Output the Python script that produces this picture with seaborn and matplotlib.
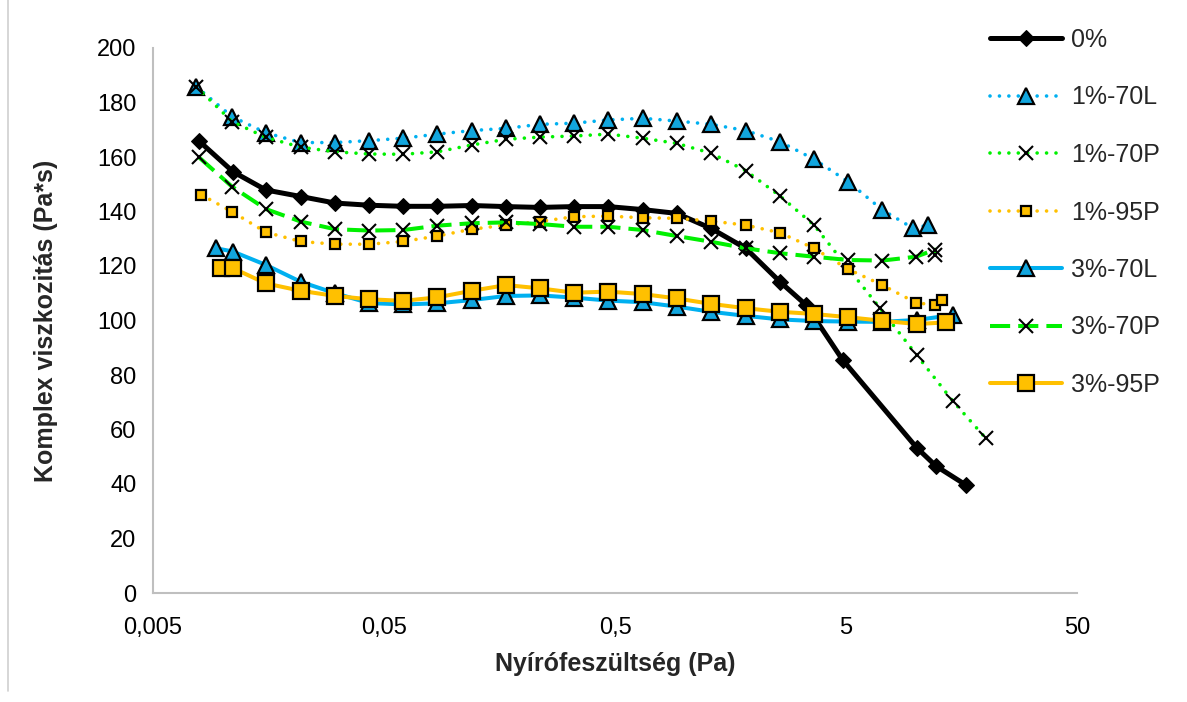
import numpy as np
import pandas as pd
import seaborn as sns
import matplotlib.pyplot as plt
from matplotlib.lines import Line2D
from matplotlib.ticker import FixedLocator, FixedFormatter, NullLocator

sns.set_style('white')
plt.rcParams['font.family'] = ['Liberation Sans', 'DejaVu Sans']

# values (x: shear stress in Pa, y: complex viscosity in Pa*s)
x_0 = [0.0079, 0.0111, 0.0154, 0.0218, 0.0307, 0.0431, 0.0606, 0.0851, 0.1198, 0.1687, 0.2367, 0.3322,
       0.4677, 0.659, 0.925, 1.302, 1.840, 2.590, 3.357, 4.838, 10.12, 12.26, 16.54]
y_0 = [165.9, 154.6, 147.9, 145.5, 143.1, 142.3, 141.9, 141.9, 142.2, 141.8, 141.5, 141.8,
       141.8, 140.7, 139.3, 133.8, 126.5, 114.2, 105.7, 85.5, 53.3, 46.6, 39.6]

x_1_70L = [0.0077, 0.0110, 0.0154, 0.0218, 0.0307, 0.0431, 0.0606, 0.0851, 0.1198, 0.1687, 0.2367, 0.3322,
           0.4677, 0.659, 0.925, 1.302, 1.840, 2.590, 3.635, 5.116, 7.18, 9.78, 11.29]
y_1_70L = [185.8, 174.8, 168.9, 165.3, 165.3, 166.0, 166.9, 168.4, 169.7, 170.5, 172.0, 172.4,
           173.6, 174.2, 173.2, 172.0, 169.7, 165.6, 159.2, 150.9, 140.6, 133.8, 135.0]

x_1_70P = [0.0077, 0.0110, 0.0154, 0.0218, 0.0307, 0.0431, 0.0606, 0.0851, 0.1198, 0.1687, 0.2367, 0.3322,
           0.4677, 0.659, 0.925, 1.302, 1.840, 2.590, 3.635, 7.02, 10.12, 14.48, 20.13]
y_1_70P = [185.8, 173.0, 167.2, 163.6, 161.9, 161.1, 161.0, 161.9, 164.4, 166.5, 167.3, 167.7,
           168.4, 166.9, 165.0, 161.4, 155.0, 145.7, 135.0, 104.5, 87.3, 70.5, 56.8]

x_1_95P = [0.0081, 0.0110, 0.0154, 0.0218, 0.0307, 0.0431, 0.0606, 0.0851, 0.1198, 0.1687, 0.2367, 0.3322,
           0.4677, 0.659, 0.925, 1.302, 1.840, 2.590, 3.635, 5.116, 7.18, 10.05, 12.14, 13.06]
y_1_95P = [146.1, 139.9, 132.4, 129.0, 128.0, 128.0, 129.0, 131.0, 133.5, 135.0, 136.3, 138.1,
           138.3, 137.7, 137.5, 136.5, 135.0, 132.2, 126.5, 118.8, 113.0, 106.5, 105.7, 107.5]

x_3_70L = [0.0094, 0.0111, 0.0154, 0.0218, 0.0307, 0.0431, 0.0606, 0.0851, 0.1198, 0.1687, 0.2367, 0.3322,
           0.4677, 0.659, 0.925, 1.302, 1.840, 2.590, 3.635, 5.116, 7.18, 10.12, 14.48]
y_3_70L = [126.5, 125.3, 120.4, 114.2, 110.0, 106.4, 105.9, 106.3, 107.5, 109.0, 109.2, 108.4,
           107.3, 106.7, 105.1, 103.2, 101.7, 100.4, 99.8, 99.6, 99.5, 100.2, 102.0]

x_3_70P = [0.0079, 0.0110, 0.0154, 0.0218, 0.0307, 0.0431, 0.0606, 0.0851, 0.1198, 0.1687, 0.2367, 0.3322,
           0.4677, 0.659, 0.925, 1.302, 1.840, 2.590, 3.635, 5.116, 7.18, 10.05, 12.14, 12.14]
y_3_70P = [159.9, 149.1, 140.9, 136.3, 133.5, 133.0, 133.2, 134.8, 135.7, 136.0, 135.4, 134.4,
           134.4, 133.2, 131.0, 128.9, 126.5, 124.7, 123.4, 122.2, 122.0, 123.4, 126.0, 123.9]

x_3_95P = [0.0098, 0.0111, 0.0154, 0.0218, 0.0307, 0.0431, 0.0606, 0.0851, 0.1198, 0.1687, 0.2367, 0.3322,
           0.4677, 0.659, 0.925, 1.302, 1.840, 2.590, 3.635, 5.116, 7.18, 10.12, 13.51]
y_3_95P = [119.4, 119.2, 113.6, 110.9, 109.0, 107.8, 107.2, 108.5, 110.9, 113.0, 111.8, 110.2,
           110.6, 109.7, 108.1, 106.1, 104.5, 103.2, 102.4, 101.2, 99.9, 98.7, 99.3]

x_ticks = [0.005, 0.05, 0.5, 5, 50]
x_tick_labels = ['0,005', '0,05', '0,5', '5', '50']

blue = '#00B0F0'
green = '#00F000'
orange = '#FFC000'
dot = (0, (0.01, 2.6))

series = [
    ('0%', x_0, y_0, dict(color='black', lw=3.6, marker='D', ms=8, mfc='black', mec='black')),
    ('1%-70L', x_1_70L, y_1_70L, dict(color=blue, lw=2.6, linestyle=dot, dash_capstyle='round',
                                      marker='^', ms=12, mfc='#12A6DE', mec='black', mew=1.6)),
    ('1%-70P', x_1_70P, y_1_70P, dict(color=green, lw=2.6, linestyle=dot, dash_capstyle='round',
                                      marker='x', ms=10.5, mec='black', mew=1.5)),
    ('1%-95P', x_1_95P, y_1_95P, dict(color=orange, lw=2.6, linestyle=dot, dash_capstyle='round',
                                      marker='s', ms=7.5, mfc=orange, mec='black', mew=1.6)),
    ('3%-70L', x_3_70L, y_3_70L, dict(color=blue, lw=2.9, marker='^', ms=12, mfc='#12A6DE',
                                      mec='black', mew=1.6)),
    ('3%-70P', x_3_70P, y_3_70P, dict(color=green, lw=2.9, linestyle=(0, (5, 2)),
                                      marker='x', ms=10.5, mec='black', mew=1.5)),
    ('3%-95P', x_3_95P, y_3_95P, dict(color=orange, lw=2.9, marker='s', ms=11, mfc=orange,
                                      mec='black', mew=1.6)),
]

fig = plt.figure(figsize=(11.87, 7.02), dpi=100)
ax = fig.add_axes([153 / 1187, 1 - 593 / 702, (1077 - 153) / 1187, (593 - 48) / 702])

for name, xs, ys, style in series:
    df = pd.DataFrame({'x': xs, 'y': ys})
    sns.lineplot(data=df, x='x', y='y', ax=ax, sort=False, estimator=None, label=name, **style)

ax.set_xscale('log')
ax.set_xlim(0.005, 50)
ax.set_ylim(0, 200)
ax.xaxis.set_major_locator(FixedLocator(x_ticks))
ax.xaxis.set_major_formatter(FixedFormatter(x_tick_labels))
ax.xaxis.set_minor_locator(NullLocator())
ax.set_yticks(np.arange(0, 201, 20))
ax.tick_params(axis='both', length=0, labelsize=17, colors='black')
ax.tick_params(axis='x', pad=17)
ax.tick_params(axis='y', pad=12)

for side in ['top', 'right']:
    ax.spines[side].set_visible(False)
for side in ['left', 'bottom']:
    ax.spines[side].set_color('#BFBFBF')
    ax.spines[side].set_linewidth(1.5)

ax.set_xlabel('Nyírófeszültség (Pa)', fontsize=18, fontweight='bold', labelpad=10)
ax.set_ylabel('Komplex viszkozitás (Pa*s)', fontsize=18, fontweight='bold', labelpad=28)

ax.get_legend().remove()
handles, labels = ax.get_legend_handles_labels()
fig.legend(handles, labels, loc='upper left', bbox_to_anchor=(990 / 1187, 1 - 28 / 702),
           frameon=False, fontsize=18, handlelength=2.9, handletextpad=0.35,
           labelspacing=1.34, borderpad=0, borderaxespad=0)

# chart border on the left edge
fig.add_artist(Line2D([8 / 1187, 8 / 1187], [0.015, 1.0], color='#D0D0D0', lw=1.2))

fig.savefig('out.png', dpi=100)
